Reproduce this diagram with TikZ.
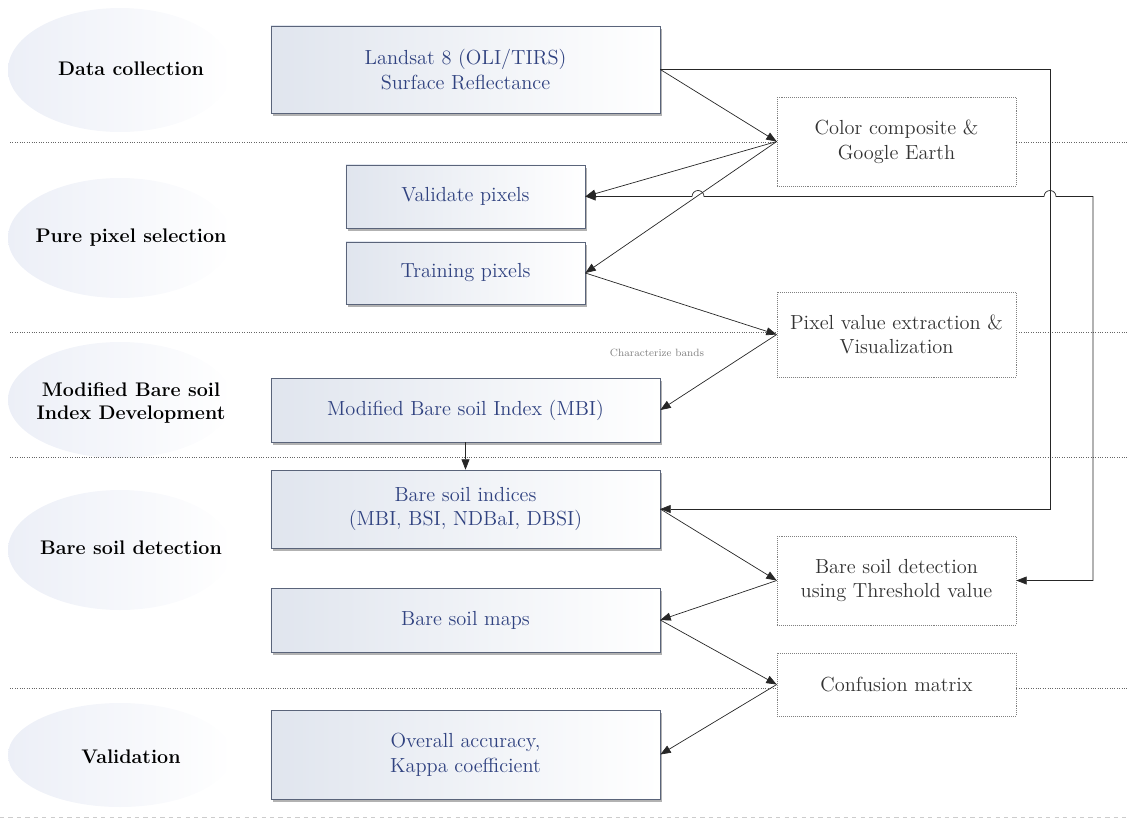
\documentclass[tikz,border=0pt]{standalone}
\usetikzlibrary{calc}
\usetikzlibrary{arrows.meta}
\usetikzlibrary{shadows}
\definecolor{txtblue}{RGB}{48,66,128}
\definecolor{boxline}{RGB}{90,100,122}
\definecolor{boxgrey}{RGB}{224,229,238}
\definecolor{ellgrey}{RGB}{236,239,247}

\begin{document}
\begin{tikzpicture}[x=0.025cm, y=-0.025cm,
  bluebox/.style={draw=boxline, left color=boxgrey, right color=white, text=txtblue,
    font=\fontsize{14.5}{17.5}\selectfont, align=center, inner sep=2pt,
    drop shadow={shadow xshift=1.5pt, shadow yshift=-2pt, fill=black!60}},
  dotbox/.style={draw=black!50, densely dotted, fill=white, text=black!80,
    font=\fontsize{14.5}{17.5}\selectfont, align=center, inner sep=2pt,
    minimum width=5.975cm},
  lbl/.style={font=\fontsize{14}{16.5}\selectfont\bfseries, align=center},
  con/.style={black!85, line width=0.5pt, -{Triangle[length=2.6mm, width=2mm]}}]
\useasboundingbox (0,0) rectangle (1129,823);
\foreach \y/\ry in {70/62, 238/60, 400/58, 550/60, 755/52}
  \shade[left color=ellgrey, right color=white] (120,\y) ellipse ({112*0.025cm} and {\ry*0.025cm});
\foreach \y in {142, 332, 457, 688}
  \draw[black!60, densely dotted, line width=0.7pt] (10,\y) -- (1129,\y);
\draw[black!20, dashed] (0,817) -- (1129,817);

\node[lbl] (l1) at (131,69)  {Data collection};
\node[lbl] (l2) at (131,238) {Pure pixel selection};
\node[lbl] (l3) at (131,403) {Modified Bare soil\\Index Development};
\node[lbl] (l4) at (131,548) {Bare soil detection};
\node[lbl] (l5) at (131,757) {Validation};

\node[bluebox, minimum width=9.725cm, minimum height=2.175cm] (ls)  at (465.5,69.5)  {Landsat 8 (OLI/TIRS)\\Surface Reflectance};
\node[bluebox, minimum width=5.975cm, minimum height=1.575cm] (val) at (465.5,196.5) {Validate pixels};
\node[bluebox, minimum width=5.975cm, minimum height=1.55cm]  (trn) at (465.5,273)   {Training pixels};
\node[bluebox, minimum width=9.725cm, minimum height=1.6cm]   (mbi) at (465.5,410)   {Modified Bare soil Index (MBI)};
\node[bluebox, minimum width=9.725cm, minimum height=1.95cm]  (bsi) at (465.5,509)   {Bare soil indices\\(MBI, BSI, NDBaI, DBSI)};
\node[bluebox, minimum width=9.725cm, minimum height=1.6cm]   (map) at (465.5,620)   {Bare soil maps};
\node[bluebox, minimum width=9.725cm, minimum height=2.225cm] (acc) at (465.5,754.5) {Overall accuracy,\\Kappa coefficient};

\node[dotbox, minimum height=2.225cm] (cc)  at (896.5,141.5) {Color composite \&\\Google Earth};
\node[dotbox, minimum height=2.125cm] (pve) at (896.5,334.5) {Pixel value extraction \&\\Visualization};
\node[dotbox, minimum height=2.225cm] (det) at (896.5,580.5) {Bare soil detection\\using Threshold value};
\node[dotbox, minimum height=1.575cm] (cm)  at (896.5,684.5) {Confusion matrix};

\draw[con] (ls.east) -- (cc.west);
\draw[con] (cc.west) -- (val.east);
\draw[con] (cc.west) -- (trn.east);
\draw[con] (trn.east) -- (pve.west);
\draw[con] (pve.west) -- (mbi.east);
\node[font=\fontsize{7.5}{9}\selectfont, text=black!50] (chb) at (657,353) {Characterize bands};
\draw[con] (mbi.south) -- (bsi.north);
\draw[con] (ls.east) -| (1050,509) -- (bsi.east);
\draw[con, {Triangle[length=2.6mm, width=2mm]}-{Triangle[length=2.6mm, width=2mm]}] (val.east) -- (692,196.5) arc[start angle=180, end angle=0, radius=0.15cm]
  -- (1044,196.5) arc[start angle=180, end angle=0, radius=0.15cm] -- (1093,196.5) |- (det.east);
\draw[con] (bsi.east) -- (det.west);
\draw[con] (det.west) -- (map.east);
\draw[con] (map.east) -- (cm.west);
\draw[con] (cm.west) -- (acc.east);
\end{tikzpicture}
\end{document}
